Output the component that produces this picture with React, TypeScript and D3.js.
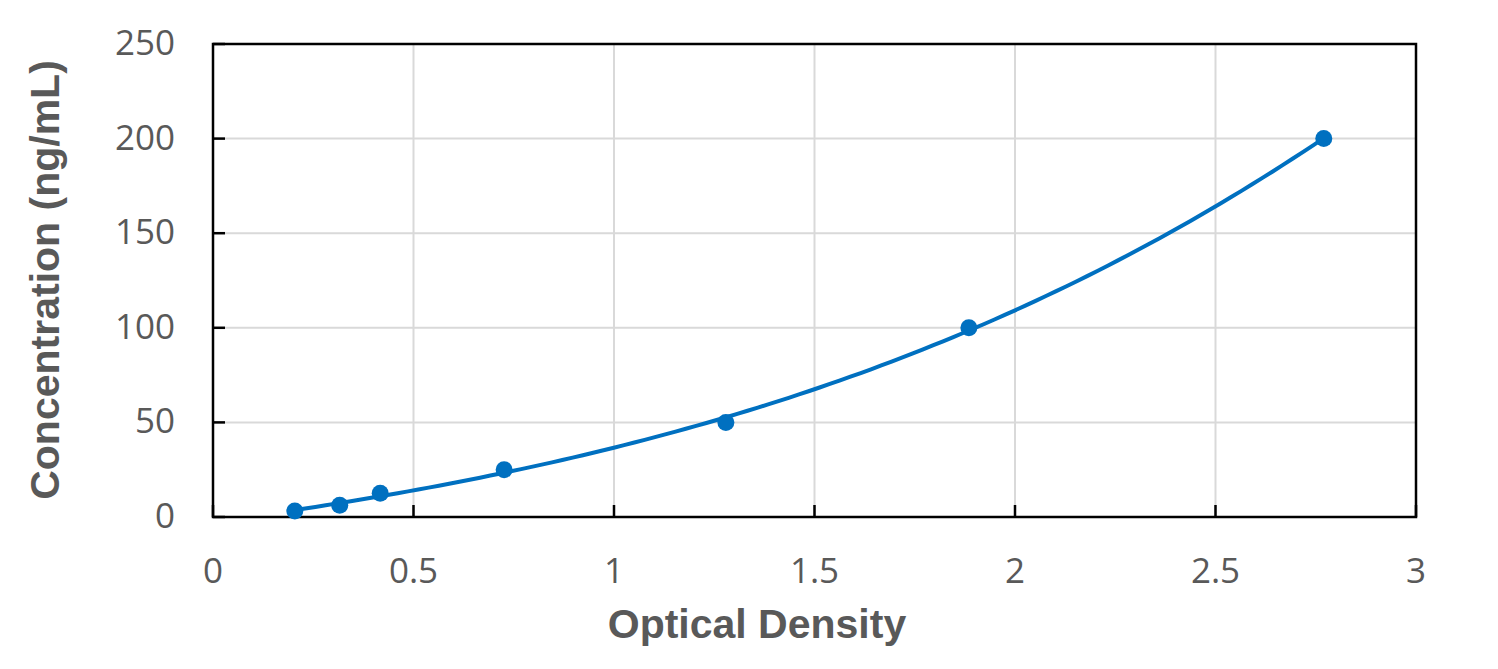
import React from "react";
import * as d3 from "d3";

const odValues = [0.204, 0.316, 0.417, 0.726, 1.279, 1.885, 2.77];
const concValues = [3.125, 6.25, 12.5, 25, 50, 100, 200];
const xTicks = [0, 0.5, 1, 1.5, 2, 2.5, 3];
const yTicks = [0, 50, 100, 150, 200, 250];
const xTitle = "Optical Density";
const yTitle = "Concentration (ng/mL)";

// least-squares polynomial trendline fitted to the data (like a spreadsheet trendline)
function polyFit(xs: number[], ys: number[], deg: number): number[] {
  const n = deg + 1;
  const A: number[][] = Array.from({ length: n }, () => new Array(n + 1).fill(0));
  for (let k = 0; k < xs.length; k++) {
    for (let i = 0; i < n; i++) {
      for (let j = 0; j < n; j++) A[i][j] += Math.pow(xs[k], i + j);
      A[i][n] += ys[k] * Math.pow(xs[k], i);
    }
  }
  for (let c = 0; c < n; c++) {
    let p = c;
    for (let r = c + 1; r < n; r++) if (Math.abs(A[r][c]) > Math.abs(A[p][c])) p = r;
    [A[c], A[p]] = [A[p], A[c]];
    for (let r = 0; r < n; r++) {
      if (r === c) continue;
      const f = A[r][c] / A[c][c];
      for (let j = c; j <= n; j++) A[r][j] -= f * A[c][j];
    }
  }
  return A.map((row, i) => row[n] / row[i]);
}

export default function App() {
  const W = 1498, H = 669;
  const left = 213, right = 1416, top = 44, bottom = 517;
  const x = d3.scaleLinear().domain([0, 3]).range([left, right]);
  const y = d3.scaleLinear().domain([0, 250]).range([bottom, top]);
  const pts = odValues.map((v, i) => [v, concValues[i]] as [number, number]);
  const coef = polyFit(odValues, concValues, 3);
  const [x0, x1] = d3.extent(odValues) as [number, number];
  const trend: [number, number][] = d3
    .range(0, 101)
    .map((i) => x0 + ((x1 - x0) * i) / 100)
    .map((v) => [v, coef.reduce((s, c, k) => s + c * Math.pow(v, k), 0)]);
  const line = d3
    .line<[number, number]>()
    .x((d) => x(d[0]))
    .y((d) => y(d[1]));
  const tickFont = "'Open Sans', 'Liberation Sans', sans-serif";
  const titleFont = "'Liberation Sans', Arial, sans-serif";
  return (
    <svg width={W} height={H} style={{ position: "absolute", left: 0, top: 0, background: "#fff" }}>
      {xTicks.map((t) => (
        <line key={"gx" + t} x1={x(t)} x2={x(t)} y1={top} y2={bottom} stroke="#d9d9d9" strokeWidth={2} />
      ))}
      {yTicks.map((t) => (
        <line key={"gy" + t} x1={left} x2={right} y1={y(t)} y2={y(t)} stroke="#d9d9d9" strokeWidth={2} />
      ))}
      <rect x={left} y={top} width={right - left} height={bottom - top} fill="none" stroke="#000" strokeWidth={2.5} />
      {xTicks.map((t) => (
        <line key={"tx" + t} x1={x(t)} x2={x(t)} y1={bottom} y2={bottom - 12} stroke="#000" strokeWidth={2.5} />
      ))}
      {yTicks.map((t) => (
        <line key={"ty" + t} x1={left} x2={left + 12} y1={y(t)} y2={y(t)} stroke="#000" strokeWidth={2.5} />
      ))}
      {xTicks.map((t) => (
        <text key={"lx" + t} x={x(t)} y={583} textAnchor="middle" fontFamily={tickFont} fontSize={35} fill="#595959">
          {String(t)}
        </text>
      ))}
      {yTicks.map((t) => (
        <text key={"ly" + t} x={175} y={y(t) + 11} textAnchor="end" fontFamily={tickFont} fontSize={35} fill="#595959">
          {String(t)}
        </text>
      ))}
      <path d={line(trend) || ""} fill="none" stroke="#0070C0" strokeWidth={4} />
      {pts.map((p, i) => (
        <circle key={"p" + i} cx={x(p[0])} cy={y(p[1])} r={8.5} fill="#0070C0" />
      ))}
      <text x={757} y={638} textAnchor="middle" fontFamily={titleFont} fontWeight="bold" fontSize={41} fill="#595959">
        {xTitle}
      </text>
      <text
        transform={`translate(59,280) rotate(-90)`}
        textAnchor="middle"
        fontFamily={titleFont}
        fontWeight="bold"
        fontSize={41}
        fill="#595959"
      >
        {yTitle}
      </text>
    </svg>
  );
}
